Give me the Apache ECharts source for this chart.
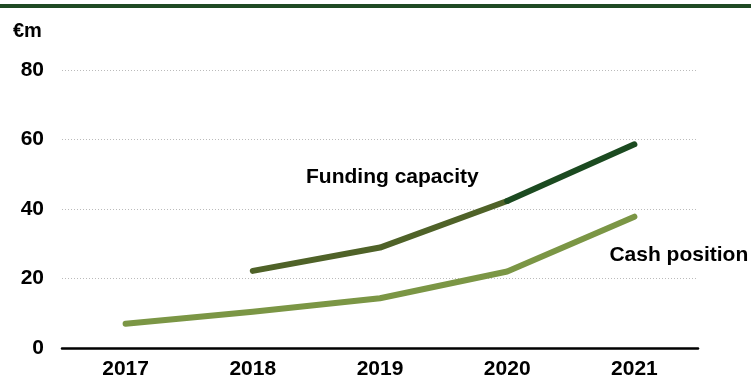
<!DOCTYPE html>
<html><head><meta charset="utf-8">
<script src="https://cdn.jsdelivr.net/npm/echarts@6/dist/echarts.min.js"></script>
<style>html,body{margin:0;padding:0;background:#fff}#c{width:751px;height:381px}</style>
</head><body><div id="c"></div>
<script>
const years = ['2017','2018','2019','2020','2021'];
const cashPosition = [7.0, 10.4, 14.3, 22.0, 37.8];
const fundingCapacity = [null, 22.2, 28.9, 42.3, 58.6];
const yTicks = [0, 20, 40, 60, 80];
const unitLabel = '€m';
const labelFunding = 'Funding capacity';
const labelCash = 'Cash position';

const fundEarly = fundingCapacity.map((v,i)=> i<=3 ? v : null);
const fundLate = fundingCapacity.map((v,i)=> i>=3 ? v : null);

const font = 'Liberation Sans, Arial, sans-serif';
const chart = echarts.init(document.getElementById('c'), null, {renderer:'canvas'});
const lineBase = {type:'line', showSymbol:false, symbol:'none', silent:true};
function ls(color){ return {width:6, cap:'round', join:'round', color:color}; }
chart.setOption({
  animation:false,
  grid:{left:62, right:53, top:70, bottom:33},
  xAxis:{type:'category', data:years, boundaryGap:true,
    axisLine:{lineStyle:{color:'#000', width:2.5}}, axisTick:{show:false},
    axisLabel:{color:'#000', fontFamily:font, fontWeight:'bold', fontSize:21, margin:11}},
  yAxis:{type:'value', min:yTicks[0], max:yTicks[yTicks.length-1], interval:20,
    axisLine:{show:false}, axisTick:{show:false},
    splitLine:{lineStyle:{color:'#bbb', type:[1,2], width:1}},
    axisLabel:{color:'#000', fontFamily:font, fontWeight:'bold', fontSize:21, margin:18}},
  series:[
    Object.assign({}, lineBase, {name:'cash', data:cashPosition, lineStyle:ls('#7b9645')}),
    Object.assign({}, lineBase, {name:'fund1', data:fundEarly, lineStyle:ls('#4f6228')}),
    Object.assign({}, lineBase, {name:'fund2', data:fundLate, lineStyle:ls('#1b4a20')})
  ]
});
const pCash = chart.convertToPixel({gridIndex:0}, [4, cashPosition[4]]);
const pFund = chart.convertToPixel({gridIndex:0}, [2, fundingCapacity[2]]);
chart.setOption({
  graphic:[
    {type:'rect', left:0, top:4, shape:{width:751, height:4}, style:{fill:'#1f4a24'}},
    {type:'text', left:13, top:21, style:{text:unitLabel, font:'bold 20px '+font, fill:'#000'}},
    {type:'text', x:pFund[0]-74, y:pFund[1]-70, style:{text:labelFunding, font:'bold 21px '+font, fill:'#000', textVerticalAlign:'middle'}},
    {type:'text', x:pCash[0]-25, y:pCash[1]+39, style:{text:labelCash, font:'bold 21px '+font, fill:'#000', textVerticalAlign:'middle'}}
  ]
});
</script></body></html>
